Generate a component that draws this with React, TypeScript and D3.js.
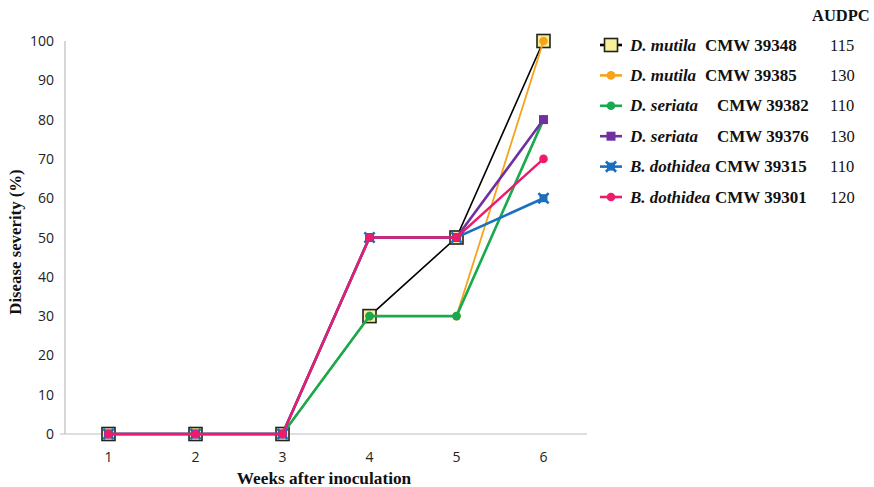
import React from "react";
import * as d3 from "d3";

const weeks = ["1", "2", "3", "4", "5", "6"];
const yTicks = [0, 10, 20, 30, 40, 50, 60, 70, 80, 90, 100];
const speciesNames = ["D. mutila", "D. mutila", "D. seriata", "D. seriata", "B. dothidea", "B. dothidea"];
const isolates = ["CMW 39348", "CMW 39385", "CMW 39382", "CMW 39376", "CMW 39315", "CMW 39301"];
const audpc = ["115", "130", "110", "130", "110", "120"];
const s39348 = [0, 0, 0, 30, 50, 100];
const s39385 = [0, 0, 0, 30, 30, 100];
const s39382 = [0, 0, 0, 30, 30, 80];
const s39376 = [0, 0, 0, 50, 50, 80];
const s39315 = [0, 0, 0, 50, 50, 60];
const s39301 = [0, 0, 0, 50, 50, 70];

const seriesValues = [s39348, s39385, s39382, s39376, s39315, s39301];
const colors = ["#000000", "#F7A21B", "#19A94F", "#7030A0", "#1C6FBF", "#EE1B6C"];
const markers = ["yellowSquare", "circle", "circle", "square", "star", "circle"];
const lineWidths = [1.6, 1.8, 2.6, 2.6, 2.6, 2.4];
const cmwX = [705, 705, 717, 717, 715, 715];

function Marker({ kind, color, x, y }: { kind: string; color: string; x: number; y: number }) {
  if (kind === "yellowSquare") {
    return <rect x={x - 6.5} y={y - 6.5} width={13} height={13} fill="#F6F09A" stroke="#222" strokeWidth={1.6} />;
  }
  if (kind === "circle") {
    return <circle cx={x} cy={y} r={4.3} fill={color} />;
  }
  if (kind === "square") {
    return <rect x={x - 4.5} y={y - 4.5} width={9} height={9} fill={color} />;
  }
  const xs = d3.symbol(d3.symbolX, 70)() as string;
  return (
    <g transform={`translate(${x},${y})`}>
      <rect x={-4} y={-4} width={8} height={8} fill={color} />
      <path d={xs} fill="none" stroke={color} strokeWidth={2.6} />
    </g>
  );
}

const serif = "Liberation Serif, Times New Roman, serif";

export default function App() {
  const x = d3.scaleBand<string>().domain(weeks).range([65, 587]);
  const y = d3.scaleLinear().domain([0, 100]).range([434, 41]);
  const cx = (w: string) => (x(w) as number) + x.bandwidth() / 2;
  const line = d3
    .line<number>()
    .x((_, i) => cx(weeks[i]))
    .y((v) => y(v));

  const legendY = d3.scalePoint<number>().domain(d3.range(6)).range([45, 197]);

  return (
    <svg width={874} height={487} style={{ position: "absolute", left: 0, top: 0, background: "#fff" }}>
      {/* axes */}
      <line x1={65} x2={65} y1={41} y2={434} stroke="#BDBDBD" strokeWidth={1.2} />
      <line x1={60} x2={587} y1={434} y2={434} stroke="#BDBDBD" strokeWidth={1.2} />
      {yTicks.map((t) => (
        <text key={t} x={54} y={y(t) + 5} textAnchor="end" fontFamily="Open Sans, sans-serif" fontSize={14} fill="#222">
          {t}
        </text>
      ))}
      {weeks.map((w) => (
        <text key={w} x={cx(w)} y={462} textAnchor="middle" fontFamily="Open Sans, sans-serif" fontSize={14} fill="#222">
          {w}
        </text>
      ))}
      <text x={324} y={484} textAnchor="middle" fontFamily={serif} fontWeight="bold" fontSize={17.3} fill="#111">
        Weeks after inoculation
      </text>
      <text
        transform={`translate(21,242) rotate(-90)`}
        textAnchor="middle"
        fontFamily={serif}
        fontWeight="bold"
        fontSize={16.8}
        fill="#111"
      >
        Disease severity (%)
      </text>

      {/* series */}
      {seriesValues.map((vals, si) => (
        <g key={si}>
          <path d={line(vals) as string} fill="none" stroke={colors[si]} strokeWidth={lineWidths[si]} />
          {vals.map((v, i) => (
            <Marker key={i} kind={markers[si]} color={colors[si]} x={cx(weeks[i])} y={y(v)} />
          ))}
        </g>
      ))}

      {/* legend */}
      <text x={812} y={21} fontFamily={serif} fontWeight="bold" fontSize={16.5} fill="#111">
        AUDPC
      </text>
      {speciesNames.map((sp, i) => {
        const ly = legendY(i) as number;
        return (
          <g key={i}>
            <line x1={600} x2={622} y1={ly} y2={ly} stroke={colors[i]} strokeWidth={2.6} />
            <Marker kind={markers[i]} color={colors[i]} x={611} y={ly} />
            <text x={630} y={ly + 5.5} fontFamily={serif} fontWeight="bold" fontStyle="italic" fontSize={17} fill="#111">
              {sp}
            </text>
            <text x={cmwX[i]} y={ly + 5.5} fontFamily={serif} fontWeight="bold" fontSize={17} fill="#111">
              {isolates[i]}
            </text>
            <text x={830} y={ly + 5.5} fontFamily={serif} fontSize={16.5} fill="#111">
              {audpc[i]}
            </text>
          </g>
        );
      })}
    </svg>
  );
}
